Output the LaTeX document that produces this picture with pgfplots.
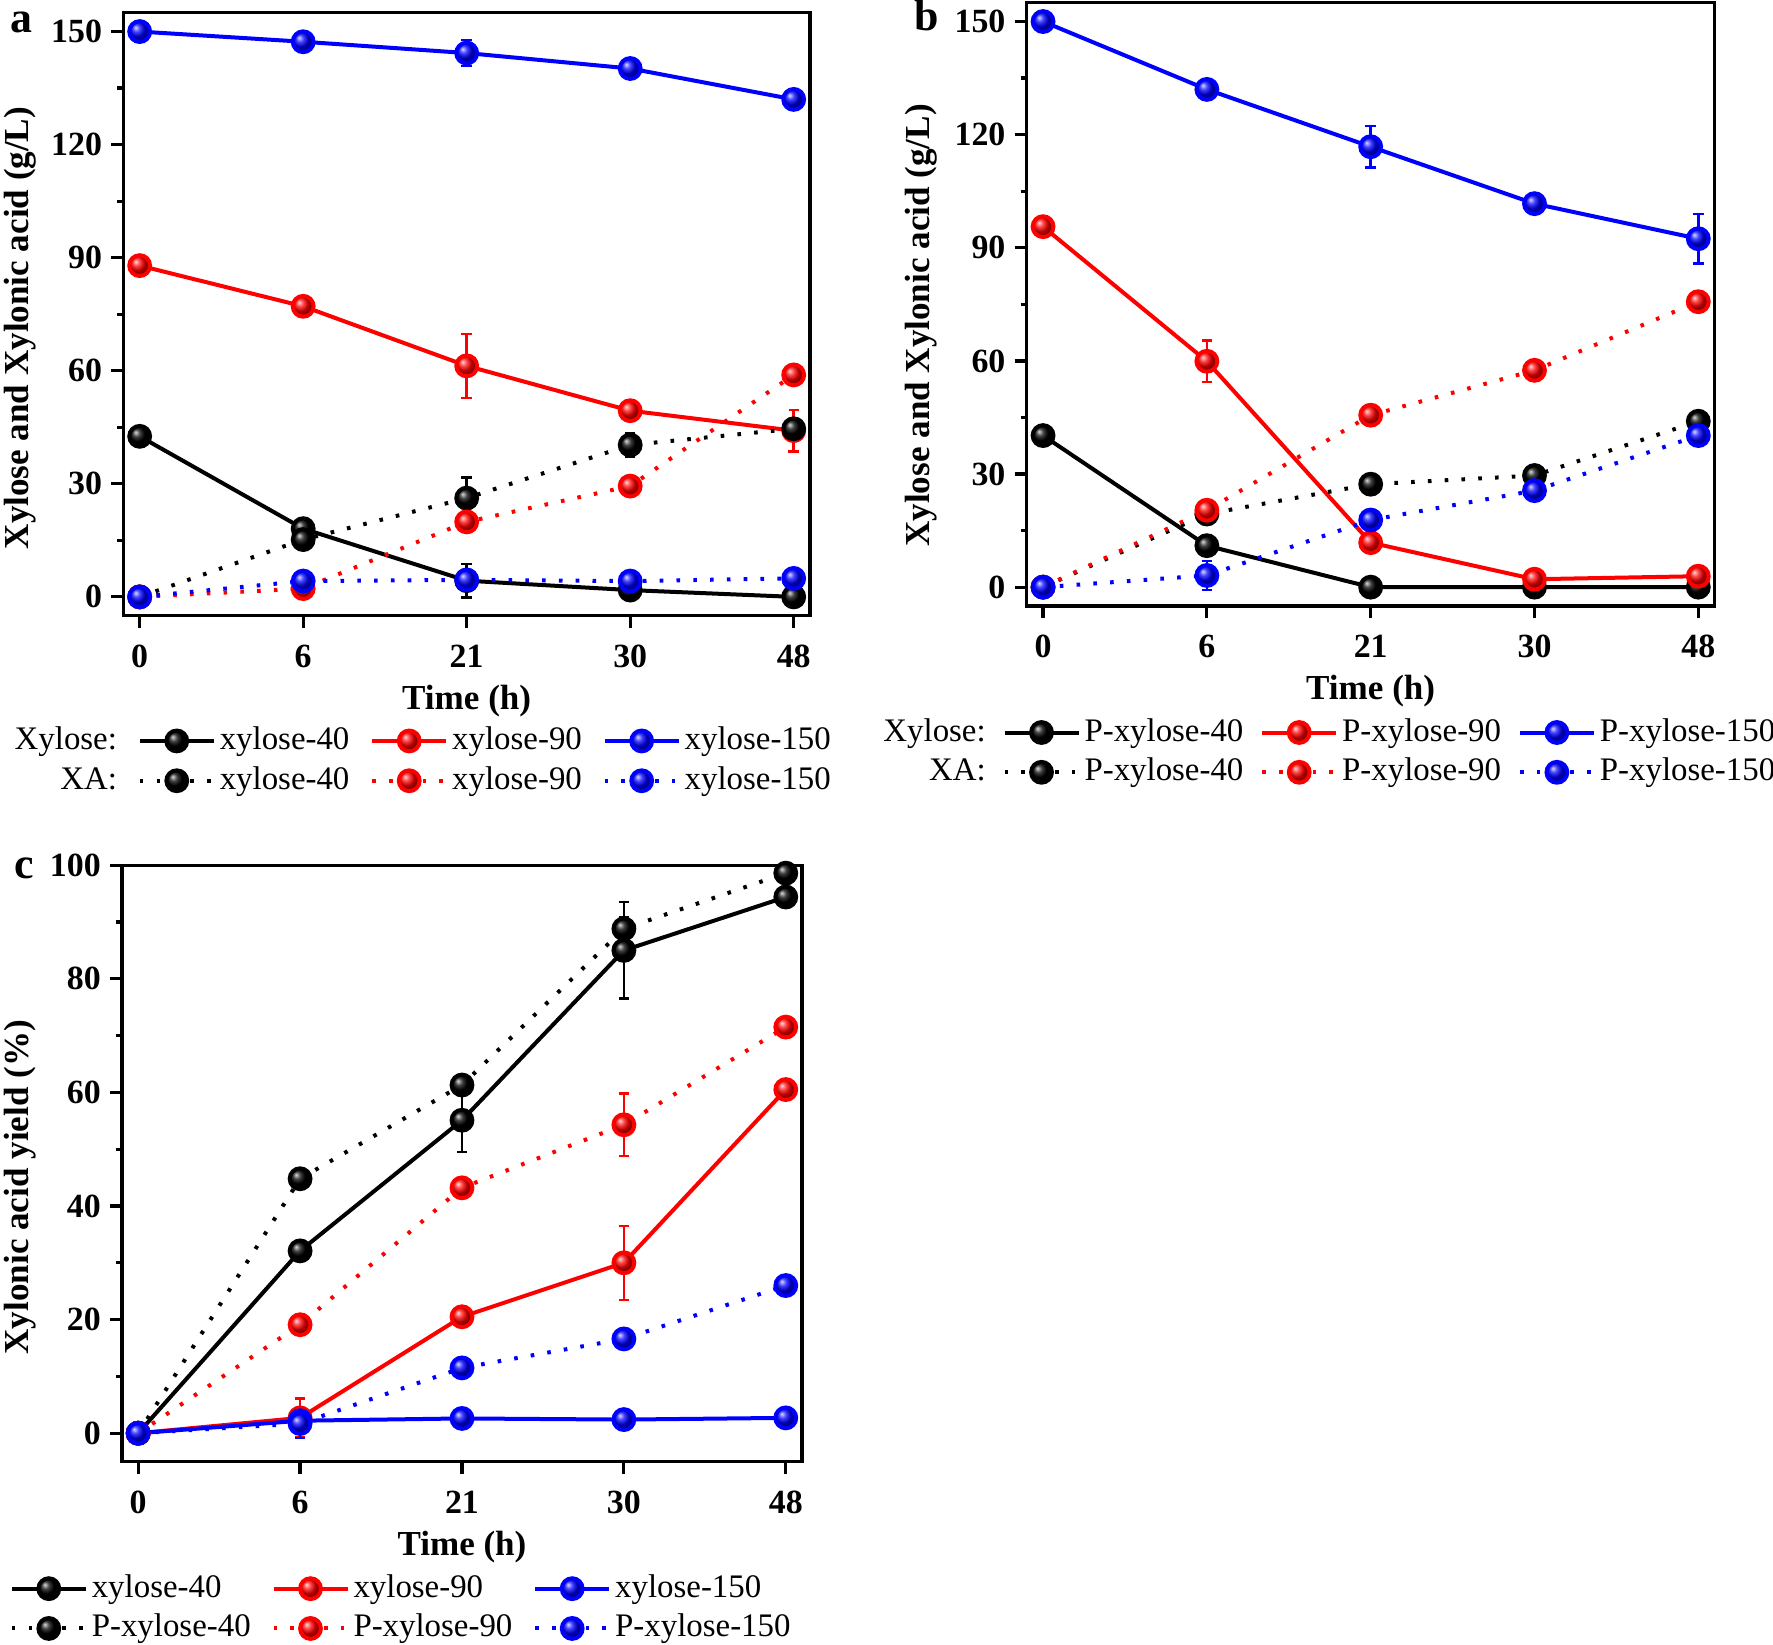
\documentclass[border=0pt]{standalone}
\usepackage{fontspec}
\setmainfont{Liberation Serif}
\usepackage{pgfplots}
\pgfplotsset{compat=1.18}
\usetikzlibrary{plotmarks}

\pgfplotsset{
  panel/.style={
    scale only axis,
    anchor=north west,
    axis line style={line width=0.8bp},
    xmin=-0.1, xmax=4.1,
    xtick={0,1,2,3,4},
    xticklabels={0,6,21,30,48},
    tick align=outside,
    xtick pos=bottom, ytick pos=left,
    major tick length=3bp,
    minor tick length=1.5bp,
    every tick/.style={line width=0.8bp, black},
    minor y tick num=1,
    ticklabel style={font=\bfseries\fontsize{8.5}{10}\selectfont},
    yticklabel style={xshift=1.2bp},
    xticklabel style={yshift=-0.8bp},
    /pgf/number format/assume math mode=true,
    label style={font=\bfseries\fontsize{8.8}{10}\selectfont},
    xlabel={Time (h)},
    xlabel style={yshift=2.6bp},
    legend cell align=left,
    legend style={draw=none, fill=none, inner sep=0pt, outer sep=0pt,
      font=\fontsize{8.25}{9.75}\selectfont,
      anchor=north west,
      nodes={inner sep=0.6bp, text height=6bp, text depth=1.75bp},
      /tikz/every odd column/.append style={column sep=0.4bp},
      /tikz/every even column/.append style={column sep=4.6bp},
      row sep=1bp,
    },
    legend image code/.code={
      \draw[mark repeat=2,mark phase=2,##1] plot coordinates {(0bp,0bp)(9.25bp,0bp)(18.5bp,0bp)};
    },
  },
  sol/.style={line width=1bp, color=#1, mark=ball, mark size=2.6bp,
     mark options={solid, ball color=#1},
     /pgfplots/error bars/y dir=both,
     /pgfplots/error bars/y explicit,
     /pgfplots/error bars/error bar style={line width=0.6bp, solid},
     /pgfplots/error bars/error mark options={rotate=90, mark size=1.3bp, line width=0.6bp, solid}},
  dot/.style={dash pattern=on 0.9bp off 3.3bp, sol=#1},
}

\begin{document}
\begin{tikzpicture}
\useasboundingbox (0,0) rectangle (443.25bp,-411.25bp);

% ---------------- panel a ----------------
\begin{axis}[panel,
  at={(30.83bp,-3.18bp)}, width=171.68bp, height=150.75bp,
  ymin=-5, ymax=155, ytick={0,30,...,150},
  ylabel={Xylose and Xylonic acid (g/L)},
  ylabel style={at={(axis description cs:-0.150,0.477)}, anchor=center},
  legend columns=4,
  legend style={at={(-0.164,-0.178)}, /tikz/column 2/.style={column sep=2.6bp}},
]
\addplot[sol=black, forget plot] table[x=x,y=y,y error=e] {
x y e
0 42.6 0.5
1 18.1 0.5
2 4.3 4.5
3 1.8 0.5
4 0 0.3
};
\addplot[sol=red, forget plot] table[x=x,y=y,y error=e] {
x y e
0 87.9 0.5
1 77.1 2.5
2 61.3 8.5
3 49.4 0.8
4 44.1 5.5
};
\addplot[sol=blue, forget plot] table[x=x,y=y,y error=e] {
x y e
0 150 0.3
1 147.3 0.5
2 144.3 3.5
3 140.2 1
4 132 0.5
};
\addplot[dot=black, forget plot] table[x=x,y=y,y error=e] {
x y e
0 0 0
1 15.2 0.5
2 26.2 5.5
3 40.3 3
4 44.6 0.5
};
\addplot[dot=red, forget plot] table[x=x,y=y,y error=e] {
x y e
0 0 0
1 2.2 1
2 19.9 2
3 29.4 2.5
4 58.9 1
};
\addplot[dot=blue, forget plot] table[x=x,y=y,y error=e] {
x y e
0 0 0
1 4.2 0.5
2 4.5 0.5
3 4.2 0.5
4 4.9 0.5
};
\addlegendimage{empty legend}\addlegendentry{Xylose:}
\addlegendimage{sol=black}\addlegendentry{xylose-40}
\addlegendimage{sol=red}\addlegendentry{xylose-90}
\addlegendimage{sol=blue}\addlegendentry{xylose-150}
\addlegendimage{empty legend}\addlegendentry{\hphantom{Xylose:}\llap{XA:}}
\addlegendimage{dot=black}\addlegendentry{xylose-40}
\addlegendimage{dot=red}\addlegendentry{xylose-90}
\addlegendimage{dot=blue}\addlegendentry{xylose-150}
\end{axis}

% ---------------- panel b ----------------
\begin{axis}[panel,
  at={(256.67bp,-0.67bp)}, width=172bp, height=150.83bp,
  ymin=-5, ymax=155, ytick={0,30,...,150},
  ylabel={Xylose and Xylonic acid (g/L)},
  ylabel style={at={(axis description cs:-0.154,0.465)}, anchor=center},
  legend columns=4,
  legend style={at={(-0.214,-0.18)}, /tikz/column 2/.style={column sep=1.5bp},
    /tikz/every even column/.append style={column sep=3.6bp}},
]
\addplot[sol=black, forget plot] table[x=x,y=y,y error=e] {
x y e
0 40.2 0.5
1 11.0 0.5
2 0 0.3
3 0 0.3
4 0 0.3
};
\addplot[sol=red, forget plot] table[x=x,y=y,y error=e] {
x y e
0 95.6 0.5
1 59.9 5.5
2 11.8 0.5
3 2.1 0.5
4 2.9 0.5
};
\addplot[sol=blue, forget plot] table[x=x,y=y,y error=e] {
x y e
0 150 0.3
1 132.0 1.5
2 116.8 5.5
3 101.7 1.5
4 92.4 6.6
};
\addplot[dot=black, forget plot] table[x=x,y=y,y error=e] {
x y e
0 0 0
1 19.4 0.5
2 27.3 0.5
3 29.6 0.5
4 44.0 0.5
};
\addplot[dot=red, forget plot] table[x=x,y=y,y error=e] {
x y e
0 0 0
1 20.4 0.5
2 45.6 0.5
3 57.5 0.5
4 75.7 0.5
};
\addplot[dot=blue, forget plot] table[x=x,y=y,y error=e] {
x y e
0 0 0
1 3.1 3.8
2 17.8 0.5
3 25.6 0.5
4 40.2 0.5
};
\addlegendimage{empty legend}\addlegendentry{Xylose:}
\addlegendimage{sol=black}\addlegendentry{P-xylose-40}
\addlegendimage{sol=red}\addlegendentry{P-xylose-90}
\addlegendimage{sol=blue}\addlegendentry{P-xylose-150}
\addlegendimage{empty legend}\addlegendentry{\hphantom{Xylose:}\llap{XA:}}
\addlegendimage{dot=black}\addlegendentry{P-xylose-40}
\addlegendimage{dot=red}\addlegendentry{P-xylose-90}
\addlegendimage{dot=blue}\addlegendentry{P-xylose-150}
\end{axis}

% ---------------- panel c ----------------
\begin{axis}[panel,
  at={(30.5bp,-216.3bp)}, width=170bp, height=149.1bp,
  ymin=-5, ymax=100, ytick={0,20,...,100},
  ylabel={Xylonic acid yield (\%)},
  ylabel style={at={(axis description cs:-0.150,0.46)}, anchor=center},
  legend columns=3,
  legend style={at={(-0.165,-0.183)}},
]
\addplot[sol=black, forget plot] table[x=x,y=y,y error=e] {
x y e
0 0 0
1 32.1 0.5
2 55.1 5.6
3 85.0 8.5
4 94.4 0.5
};
\addplot[sol=red, forget plot] table[x=x,y=y,y error=e] {
x y e
0 0 0
1 2.7 3.4
2 20.5 0.8
3 30.0 6.5
4 60.5 0.5
};
\addplot[sol=blue, forget plot] table[x=x,y=y,y error=e] {
x y e
0 0 0
1 2.2 0.5
2 2.6 0.5
3 2.4 0.5
4 2.7 0.5
};
\addplot[dot=black, forget plot] table[x=x,y=y,y error=e] {
x y e
0 0 0
1 44.8 0.5
2 61.3 1.5
3 88.8 2
4 98.6 0.5
};
\addplot[dot=red, forget plot] table[x=x,y=y,y error=e] {
x y e
0 0 0
1 19.1 0.5
2 43.2 1.2
3 54.3 5.5
4 71.5 0.5
};
\addplot[dot=blue, forget plot] table[x=x,y=y,y error=e] {
x y e
0 0 0
1 1.7 2.5
2 11.5 0.5
3 16.6 0.5
4 26.0 0.5
};
\addlegendimage{sol=black}\addlegendentry{xylose-40}
\addlegendimage{sol=red}\addlegendentry{xylose-90}
\addlegendimage{sol=blue}\addlegendentry{xylose-150}
\addlegendimage{dot=black}\addlegendentry{P-xylose-40}
\addlegendimage{dot=red}\addlegendentry{P-xylose-90}
\addlegendimage{dot=blue}\addlegendentry{P-xylose-150}
\end{axis}

\node[font=\bfseries\fontsize{11}{12}\selectfont, anchor=base west, inner sep=0pt] at (2.5bp,-8bp) {a};
\node[font=\bfseries\fontsize{11}{12}\selectfont, anchor=base west, inner sep=0pt] at (228.5bp,-7.5bp) {b};
\node[font=\bfseries\fontsize{11}{12}\selectfont, anchor=base west, inner sep=0pt] at (3.5bp,-219.5bp) {c};
\end{tikzpicture}
\end{document}
